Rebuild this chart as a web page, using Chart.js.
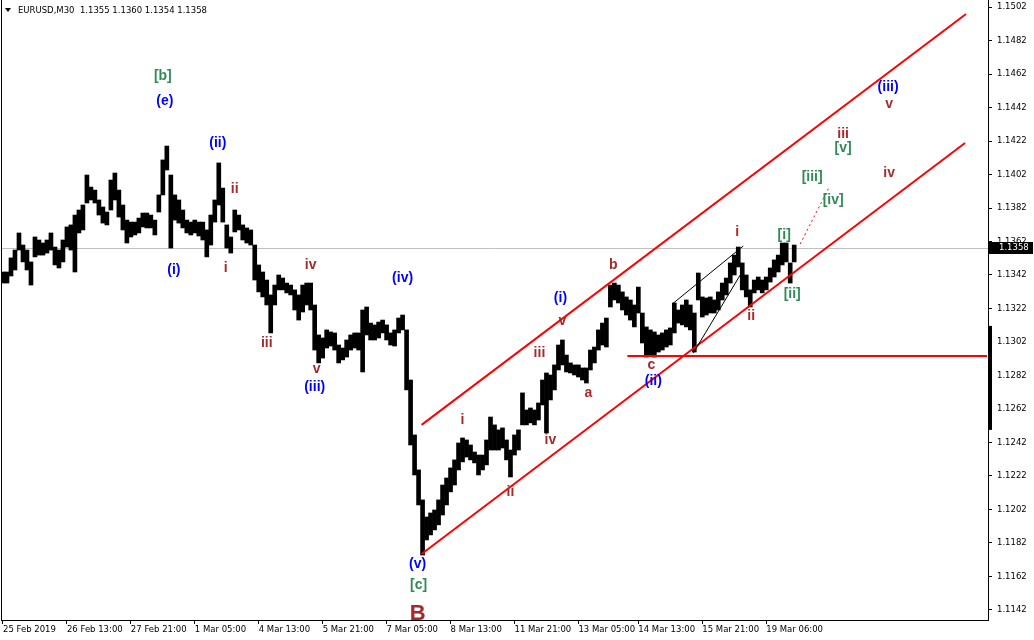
<!DOCTYPE html>
<html><head><meta charset="utf-8">
<script src="https://cdn.jsdelivr.net/npm/chart.js@4.4.1/dist/chart.umd.min.js"></script>
<style>html,body{margin:0;padding:0;background:#fff;overflow:hidden}</style>
</head><body>
<canvas id="c" width="1034" height="640"></canvas>
<script>
// ---- data ----
const symbolTitle = 'EURUSD,M30';
const lastBarOHLC = [1.1355, 1.1360, 1.1354, 1.1358];
const lastPrice = 1.1358;

// high / low of each 2-hour slot (4 M30 bars)
const highs = [
1.13438,1.13438,1.13522,1.13569,1.13671,1.13599,1.13569,1.13498,1.13647,1.13629,
1.13611,1.13629,1.13671,1.13587,1.13569,1.13629,1.13707,1.13719,1.13778,1.13808,
1.13838,1.14017,1.13945,1.13927,1.13868,1.13826,1.13796,1.13987,1.14029,1.13927,
1.13838,1.13748,1.13736,1.13736,1.13760,1.13790,1.13790,1.13778,1.13748,1.13898,
1.14107,1.14190,1.14017,1.13898,1.13868,1.13808,1.13748,1.13736,1.13748,1.13736,
1.13736,1.13689,1.13778,1.13868,1.14089,1.13939,1.13719,1.13647,1.13808,1.13778,
1.13719,1.13701,1.13689,1.13599,1.13480,1.13438,1.13390,1.13301,1.13360,1.13420,
1.13402,1.13372,1.13360,1.13331,1.13301,1.13360,1.13372,1.13372,1.13241,1.13062,
1.13044,1.13092,1.13080,1.13074,1.13002,1.12984,1.13032,1.13062,1.13074,1.13074,
1.13211,1.13229,1.13133,1.13122,1.13139,1.13151,1.13122,1.13074,1.13092,1.13163,
1.13181,1.13092,1.12793,1.12465,1.12256,1.12077,1.11975,1.11999,1.12017,1.12077,
1.12166,1.12208,1.12268,1.12316,1.12417,1.12447,1.12435,1.12405,1.12363,1.12345,
1.12345,1.12435,1.12572,1.12525,1.12495,1.12507,1.12435,1.12375,1.12465,1.12495,
1.12716,1.12614,1.12626,1.12614,1.12656,1.12793,1.12835,1.12823,1.12883,1.13002,
1.13032,1.12942,1.12895,1.12883,1.12883,1.12865,1.12865,1.12972,1.12990,1.13092,
1.13133,1.13163,1.13360,1.13372,1.13360,1.13319,1.13289,1.13271,1.13241,1.13348,
1.13193,1.13110,1.13092,1.13080,1.13062,1.13074,1.13092,1.13104,1.13253,1.13211,
1.13241,1.13271,1.13241,1.13193,1.13432,1.13289,1.13283,1.13289,1.13271,1.13319,
1.13372,1.13402,1.13492,1.13539,1.13587,1.13492,1.13420,1.13331,1.13390,1.13408,
1.13390,1.13408,1.13462,1.13510,1.13539,1.13611,1.13611,1.13492,1.13599];
const lows = [
1.13372,1.13372,1.13414,1.13450,1.13569,1.13498,1.13450,1.13360,1.13528,1.13539,
1.13539,1.13551,1.13569,1.13480,1.13462,1.13498,1.13587,1.13569,1.13438,1.13671,
1.13689,1.13850,1.13868,1.13850,1.13778,1.13730,1.13719,1.13808,1.13868,1.13766,
1.13689,1.13611,1.13647,1.13659,1.13671,1.13707,1.13701,1.13701,1.13659,1.13796,
1.13898,1.14047,1.13581,1.13748,1.13730,1.13701,1.13671,1.13659,1.13671,1.13653,
1.13629,1.13528,1.13599,1.13736,1.13838,1.13736,1.13581,1.13551,1.13677,1.13689,
1.13629,1.13611,1.13599,1.13390,1.13319,1.13289,1.13241,1.13074,1.13241,1.13331,
1.13331,1.13313,1.13301,1.13211,1.13151,1.13199,1.13241,1.13211,1.12972,1.12895,
1.12924,1.12984,1.12996,1.12972,1.12895,1.12913,1.12930,1.12972,1.12984,1.12972,
1.12841,1.13062,1.13032,1.13032,1.13044,1.13074,1.13032,1.13002,1.12996,1.13074,
1.13092,1.12734,1.12405,1.12226,1.12047,1.11748,1.11838,1.11868,1.11898,1.11928,
1.11987,1.12047,1.12125,1.12166,1.12256,1.12304,1.12333,1.12316,1.12298,1.12226,
1.12256,1.12286,1.12375,1.12375,1.12375,1.12387,1.12316,1.12214,1.12345,1.12375,
1.12525,1.12525,1.12537,1.12525,1.12554,1.12644,1.12477,1.12674,1.12734,1.12853,
1.12883,1.12841,1.12835,1.12823,1.12811,1.12793,1.12775,1.12853,1.12895,1.12972,
1.13002,1.12990,1.13229,1.13271,1.13253,1.13211,1.13181,1.13151,1.13110,1.13193,
1.13014,1.12930,1.12942,1.12930,1.12960,1.12972,1.12990,1.13002,1.13074,1.13133,
1.13122,1.13110,1.13092,1.12960,1.13271,1.13169,1.13181,1.13193,1.13193,1.13211,
1.13271,1.13301,1.13372,1.13420,1.13468,1.13331,1.13289,1.13229,1.13313,1.13331,
1.13313,1.13331,1.13378,1.13408,1.13438,1.13480,1.13498,1.13372,1.13498];

const totalSlots = 247; // includes empty slots to the right (chart shift)
const timeLabels = ['25 Feb 2019','26 Feb 13:00','27 Feb 21:00','1 Mar 05:00','4 Mar 13:00','5 Mar 21:00','7 Mar 05:00','8 Mar 13:00','11 Mar 21:00','13 Mar 05:00','14 Mar 13:00','15 Mar 21:00','19 Mar 06:00'];
const timeLabelSlots = [0,16,32,48,64,80,96,112,128,144,159,175,191];
const yTicks = [1.1142,1.1162,1.1182,1.1202,1.1222,1.1242,1.1262,1.1282,1.1302,1.1322,1.1342,1.1362,1.1382,1.1402,1.1422,1.1442,1.1462,1.1482,1.1502];
const yMin = 1.11360, yMax = 1.15062;
const axisMarkRange = [1.12495, 1.13116];

// annotation lines: [slot, price] pairs
const upperChannel = [[104.75, 1.12525], [241, 1.14978]];
const lowerChannel = [[104.75, 1.11754], [240.75, 1.14208]];
const supportLine = [[156.25, 1.12936], [246.25, 1.12936]];
const projection = [[199.5, 1.13605], [206.75, 1.13945]];
const wedgeUpper = [[167.5, 1.13247], [185.25, 1.13593]];
const wedgeLower = [[172.75, 1.12954], [185.25, 1.13450]];

// wave labels: text, slot, price, degree
const waveText  = ['[b]','(e)','(ii)','ii','(i)','i','iii','iv','(iv)','v','(iii)','(v)','[c]','B','i','ii','iii','iv','(i)','v','b','a','c','(ii)','i','ii','[i]','[ii]','[iii]','[iv]','[v]','iii','iv','(iii)','v'];
const waveSlot  = [40,40.5,53.75,58,42.75,55.75,66,77,100,78.5,78,103.75,104,103.75,115,127,134.25,137,139.5,140,152.75,146.5,162.25,162.75,183.75,187.25,195.5,197.5,202.5,207.75,210.25,210.25,221.75,221.5,221.75];
const wavePrice = [1.14608,1.14459,1.14208,1.13933,1.13450,1.13462,1.13014,1.13480,1.13402,1.12859,1.12751,1.11695,1.11569,1.11396,1.12554,1.12125,1.12954,1.12435,1.13283,1.13145,1.13480,1.12716,1.12883,1.12787,1.13677,1.13175,1.13659,1.13307,1.14005,1.13868,1.14178,1.14262,1.14029,1.14542,1.14443];
const waveDegree = ['g','b','b','r','b','r','r','r','b','r','b','b','g','R','r','r','r','r','b','r','r','r','r','b','r','r','g','g','g','g','g','r','r','b','r'];

// ---- chart ----
const FONT = 'DejaVu Sans';
const degreeColor = {b:'#0000ff', r:'#a52a2a', R:'#a52a2a', g:'#2e8b57'};

const overlay = {
  id: 'overlay',
  beforeDatasetsDraw(chart) {
    const {ctx, chartArea: a, scales: {y}} = chart;
    const py = Math.round(y.getPixelForValue(lastPrice)) + 0.5;
    ctx.save();
    ctx.strokeStyle = '#c0c0c0'; ctx.lineWidth = 1;
    ctx.beginPath(); ctx.moveTo(a.left, py); ctx.lineTo(a.right, py); ctx.stroke();
    ctx.restore();
  },
  afterDatasetsDraw(chart) {
    const {ctx, chartArea: a, scales: {x, y}} = chart;
    const P = pt => [x.getPixelForValue(pt[0]), y.getPixelForValue(pt[1])];
    const line = (seg, color, w, dash) => {
      const [x1, y1] = P(seg[0]), [x2, y2] = P(seg[1]);
      ctx.save();
      ctx.strokeStyle = color; ctx.lineWidth = w; ctx.setLineDash(dash || []);
      ctx.beginPath(); ctx.moveTo(x1, y1); ctx.lineTo(x2, y2); ctx.stroke();
      ctx.restore();
    };
    ctx.save();
    ctx.beginPath(); ctx.rect(a.left, a.top, a.right - a.left, a.bottom - a.top); ctx.clip();
    line(upperChannel, '#ff0000', 2);
    line(lowerChannel, '#ff0000', 2);
    line(supportLine, '#ff0000', 2);
    line(projection, '#ff0000', 1, [2, 3]);
    line(wedgeUpper, '#000000', 1);
    line(wedgeLower, '#000000', 1);
    ctx.textAlign = 'center'; ctx.textBaseline = 'middle';
    for (let i = 0; i < waveText.length; i++) {
      const [px, py] = P([waveSlot[i], wavePrice[i]]);
      const big = waveDegree[i] === 'R';
      ctx.font = 'bold ' + (big ? 22 : 14) + 'px "Liberation Sans", Arial, sans-serif';
      ctx.fillStyle = degreeColor[waveDegree[i]];
      ctx.fillText(waveText[i], px, py);
    }
    ctx.restore();
  },
  afterDraw(chart) {
    const {ctx, chartArea: a, scales: {y}} = chart;
    ctx.save();
    // left frame
    ctx.strokeStyle = '#000'; ctx.lineWidth = 1;
    ctx.beginPath(); ctx.moveTo(a.left + 0.5, a.top); ctx.lineTo(a.left + 0.5, a.bottom); ctx.stroke();
    // header
    ctx.fillStyle = '#000';
    ctx.beginPath(); ctx.moveTo(5, 8); ctx.lineTo(11, 8); ctx.lineTo(8, 12); ctx.closePath(); ctx.fill();
    ctx.font = '8.5px "' + FONT + '"';
    ctx.textAlign = 'left'; ctx.textBaseline = 'middle';
    ctx.fillText(symbolTitle + '  ' + lastBarOHLC.map(v => v.toFixed(4)).join(' '), 18, 11);
    // axis mark
    const t = y.getPixelForValue(axisMarkRange[1]), b = y.getPixelForValue(axisMarkRange[0]);
    ctx.fillRect(a.right + 1, t, 3, b - t);
    // price box
    const py = Math.round(y.getPixelForValue(lastPrice));
    ctx.fillRect(a.right + 1, py - 6, 1034 - a.right - 2, 12);
    ctx.fillStyle = '#fff';
    ctx.fillText(lastPrice.toFixed(4), a.right + 11, py);
    ctx.restore();
  }
};

new Chart(document.getElementById('c'), {
  type: 'bar',
  data: {
    labels: Array.from({length: totalSlots}, (_, i) => i),
    datasets: [{
      data: highs.map((h, i) => [lows[i], h]),
      backgroundColor: '#000',
      borderWidth: 0,
      barPercentage: 1,
      categoryPercentage: 1
    }]
  },
  options: {
    responsive: false, animation: false, devicePixelRatio: 1,
    layout: {padding: {left: 1, top: 0, right: 0, bottom: 0}},
    plugins: {legend: {display: false}, tooltip: {enabled: false}},
    scales: {
      x: {
        type: 'category', offset: true,
        afterFit: s => { s.height = 20; s.paddingLeft = 0; s.paddingRight = 0; },
        ticks: {
          autoSkip: false, maxRotation: 0, minRotation: 0, align: 'start', padding: 1,
          color: '#000', font: {family: FONT, size: 8.5},
          callback: (v, i) => { const k = timeLabelSlots.indexOf(i); return k >= 0 ? timeLabels[k] : null; }
        },
        grid: {offset: false, drawOnChartArea: false, drawTicks: true, tickLength: 4, color: '#000'},
        border: {display: true, color: '#000'}
      },
      y: {
        position: 'right', min: yMin, max: yMax,
        afterBuildTicks: s => { s.ticks = yTicks.map(v => ({value: v})); },
        afterFit: s => { s.width = 46; s.paddingTop = 0; s.paddingBottom = 0; },
        ticks: {autoSkip: false, padding: 5, color: '#000', font: {family: FONT, size: 8.5}, callback: v => Number(v).toFixed(4)},
        grid: {drawOnChartArea: false, drawTicks: true, tickLength: 4, color: '#000'},
        border: {display: true, color: '#000'}
      }
    }
  },
  plugins: [overlay]
});
</script>
</body></html>
